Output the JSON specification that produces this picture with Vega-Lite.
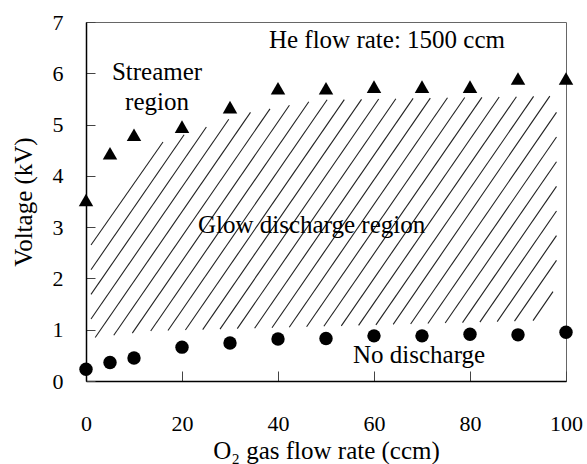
{
  "$schema": "https://vega.github.io/schema/vega-lite/v6.json",
  "width": 480,
  "height": 359,
  "autosize": "none",
  "padding": {"left": 86, "top": 22, "right": 21, "bottom": 83},
  "background": "white",
  "config": {
    "view": {"stroke": "#666666", "strokeWidth": 1},
    "font": "Liberation Serif"
  },
  "datasets": {
    "hatch": [
      {"x1": 1.04, "y1": 2.652, "x2": 16.04, "y2": 4.66},
      {"x1": 1.04, "y1": 2.17, "x2": 20.44, "y2": 4.802},
      {"x1": 1.04, "y1": 1.688, "x2": 25.08, "y2": 4.952},
      {"x1": 1.04, "y1": 1.209, "x2": 29.75, "y2": 5.103},
      {"x1": 1.92, "y1": 0.848, "x2": 34.27, "y2": 5.237},
      {"x1": 5.79, "y1": 0.891, "x2": 38.33, "y2": 5.307},
      {"x1": 9.65, "y1": 0.934, "x2": 42.38, "y2": 5.377},
      {"x1": 13.48, "y1": 0.975, "x2": 46.42, "y2": 5.446},
      {"x1": 17.08, "y1": 0.985, "x2": 50.23, "y2": 5.483},
      {"x1": 20.71, "y1": 0.994, "x2": 53.81, "y2": 5.487},
      {"x1": 24.31, "y1": 1.002, "x2": 57.4, "y2": 5.492},
      {"x1": 27.92, "y1": 1.012, "x2": 60.98, "y2": 5.498},
      {"x1": 31.52, "y1": 1.022, "x2": 64.56, "y2": 5.504},
      {"x1": 35.13, "y1": 1.029, "x2": 68.15, "y2": 5.51},
      {"x1": 38.75, "y1": 1.039, "x2": 71.73, "y2": 5.516},
      {"x1": 42.35, "y1": 1.049, "x2": 75.31, "y2": 5.522},
      {"x1": 45.96, "y1": 1.057, "x2": 78.9, "y2": 5.528},
      {"x1": 49.56, "y1": 1.067, "x2": 82.48, "y2": 5.531},
      {"x1": 53.19, "y1": 1.076, "x2": 86.08, "y2": 5.537},
      {"x1": 56.79, "y1": 1.084, "x2": 89.67, "y2": 5.543},
      {"x1": 60.4, "y1": 1.094, "x2": 93.25, "y2": 5.549},
      {"x1": 64.0, "y1": 1.104, "x2": 96.63, "y2": 5.555},
      {"x1": 67.63, "y1": 1.111, "x2": 98.02, "y2": 5.237},
      {"x1": 71.23, "y1": 1.121, "x2": 98.02, "y2": 4.757},
      {"x1": 74.83, "y1": 1.131, "x2": 98.02, "y2": 4.276},
      {"x1": 78.44, "y1": 1.139, "x2": 98.02, "y2": 3.796},
      {"x1": 82.06, "y1": 1.148, "x2": 98.02, "y2": 3.315},
      {"x1": 85.67, "y1": 1.158, "x2": 98.02, "y2": 2.835},
      {"x1": 89.27, "y1": 1.168, "x2": 98.02, "y2": 2.353},
      {"x1": 93.13, "y1": 1.177, "x2": 97.29, "y2": 1.743}
    ],
    "points": [
      {"flow": 0, "voltage": 3.53, "series": "Streamer"},
      {"flow": 5, "voltage": 4.44, "series": "Streamer"},
      {"flow": 10, "voltage": 4.8, "series": "Streamer"},
      {"flow": 20, "voltage": 4.96, "series": "Streamer"},
      {"flow": 30, "voltage": 5.34, "series": "Streamer"},
      {"flow": 40, "voltage": 5.71, "series": "Streamer"},
      {"flow": 50, "voltage": 5.71, "series": "Streamer"},
      {"flow": 60, "voltage": 5.74, "series": "Streamer"},
      {"flow": 70, "voltage": 5.74, "series": "Streamer"},
      {"flow": 80, "voltage": 5.74, "series": "Streamer"},
      {"flow": 90, "voltage": 5.9, "series": "Streamer"},
      {"flow": 100, "voltage": 5.9, "series": "Streamer"},
      {"flow": 0, "voltage": 0.23, "series": "Discharge"},
      {"flow": 5, "voltage": 0.36, "series": "Discharge"},
      {"flow": 10, "voltage": 0.45, "series": "Discharge"},
      {"flow": 20, "voltage": 0.66, "series": "Discharge"},
      {"flow": 30, "voltage": 0.74, "series": "Discharge"},
      {"flow": 40, "voltage": 0.82, "series": "Discharge"},
      {"flow": 50, "voltage": 0.83, "series": "Discharge"},
      {"flow": 60, "voltage": 0.88, "series": "Discharge"},
      {"flow": 70, "voltage": 0.88, "series": "Discharge"},
      {"flow": 80, "voltage": 0.91, "series": "Discharge"},
      {"flow": 90, "voltage": 0.9, "series": "Discharge"},
      {"flow": 100, "voltage": 0.95, "series": "Discharge"}
    ],
    "labels": [
      {"x": 62.7, "y": 6.65, "text": "He flow rate: 1500 ccm"},
      {"x": 14.8, "y": 6.02, "text": "Streamer"},
      {"x": 14.8, "y": 5.44, "text": "region"},
      {"x": 47.0, "y": 3.04, "text": "Glow discharge region"},
      {"x": 69.4, "y": 0.51, "text": "No discharge"}
    ]
  },
  "layer": [
    {
      "data": {"name": "hatch"},
      "mark": {"type": "rule", "color": "#222222", "strokeWidth": 1.1},
      "encoding": {
        "x": {
          "field": "x1", "type": "quantitative",
          "scale": {"domain": [0, 100], "nice": false, "zero": false},
          "axis": {
            "title": "O₂ gas flow rate (ccm)",
            "values": [0, 20, 40, 60, 80, 100],
            "grid": false,
            "domainColor": "black", "domainWidth": 1.5,
            "tickColor": "#444444", "tickSize": -10, "tickWidth": 1,
            "labelFontSize": 22, "labelFont": "Liberation Serif", "labelColor": "black",
            "labelPadding": 42, "labelFlush": false, "labelOverlap": false,
            "titleFontSize": 25, "titleFont": "Liberation Serif", "titleFontWeight": "normal",
            "titleColor": "black", "titlePadding": 4
          }
        },
        "y": {
          "field": "y1", "type": "quantitative",
          "scale": {"domain": [0, 7], "nice": false, "zero": false},
          "axis": {
            "title": "Voltage (kV)",
            "values": [0, 1, 2, 3, 4, 5, 6, 7],
            "grid": false,
            "domainColor": "black", "domainWidth": 1.5,
            "tickColor": "#444444", "tickSize": -9, "tickWidth": 1,
            "labelFontSize": 22, "labelFont": "Liberation Serif", "labelColor": "black",
            "labelPadding": 32, "labelFlush": false, "labelOverlap": false,
            "titleFontSize": 25, "titleFont": "Liberation Serif", "titleFontWeight": "normal",
            "titleColor": "black", "titlePadding": 16
          }
        },
        "x2": {"field": "x2"},
        "y2": {"field": "y2"}
      }
    },
    {
      "data": {"name": "points"},
      "mark": {"type": "point", "filled": true, "opacity": 1, "clip": false},
      "encoding": {
        "x": {"field": "flow", "type": "quantitative"},
        "y": {"field": "voltage", "type": "quantitative"},
        "shape": {
          "field": "series", "type": "nominal",
          "scale": {"domain": ["Streamer", "Discharge"], "range": ["triangle-up", "circle"]},
          "legend": null
        },
        "size": {
          "field": "series", "type": "nominal",
          "scale": {"domain": ["Streamer", "Discharge"], "range": [210, 180]},
          "legend": null
        },
        "color": {"value": "black"}
      }
    },
    {
      "data": {"name": "labels"},
      "mark": {"type": "text", "fontSize": 25, "font": "Liberation Serif", "color": "black", "align": "center", "baseline": "middle"},
      "encoding": {
        "x": {"field": "x", "type": "quantitative"},
        "y": {"field": "y", "type": "quantitative"},
        "text": {"field": "text"}
      }
    }
  ]
}
